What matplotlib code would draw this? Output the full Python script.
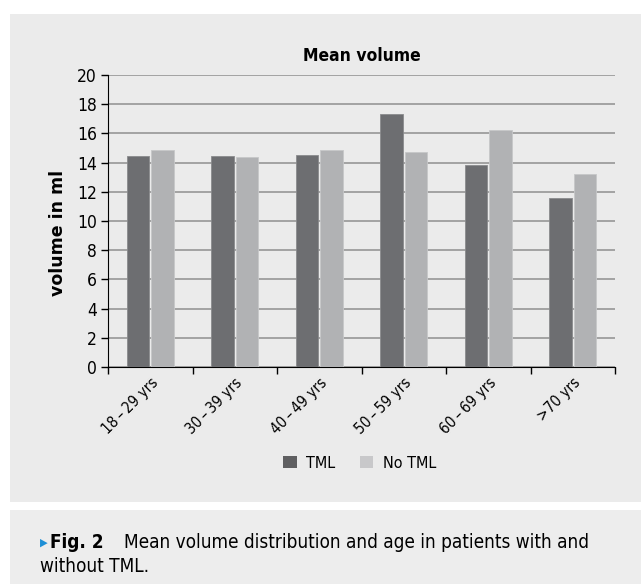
import numpy as np
import matplotlib
matplotlib.use('Agg')
import matplotlib.pyplot as plt
from matplotlib.patches import Rectangle

ageGroups = ['18\u2009–\u200929 yrs', '30\u2009–\u200939 yrs', '40\u2009–\u200949 yrs',
             '50\u2009–\u200959 yrs', '60\u2009–\u200969 yrs', '>70 yrs']
tmlVolume = [14.45, 14.45, 14.55, 17.35, 13.85, 11.55]
noTmlVolume = [14.85, 14.35, 14.85, 14.75, 16.25, 13.25]
yTicks = [0, 2, 4, 6, 8, 10, 12, 14, 16, 18, 20]

plt.rcParams['font.family'] = ['DejaVu Sans']
plt.rcParams['font.stretch'] = 'condensed'

fig = plt.figure(figsize=(6.41, 5.84), dpi=100)
fig.patch.set_facecolor('white')

# grey panels behind chart and caption
fig.patches.append(Rectangle((10/641, 1 - 502/584), 631/641, 488/584,
                             transform=fig.transFigure, facecolor='#ebebeb', edgecolor='none', zorder=-10))
fig.patches.append(Rectangle((10/641, 0), 631/641, 74/584,
                             transform=fig.transFigure, facecolor='#ededed', edgecolor='none', zorder=-10))

ax = fig.add_axes([108/641, 1 - 367/584, 507/641, 292/584])
ax.set_facecolor('none')

x = np.arange(len(ageGroups))
w = 0.265
ax.bar(x - 0.145, tmlVolume, w, color='#6d6e71', edgecolor='#8a8b8d', linewidth=0.6, label='TML', zorder=3)
ax.bar(x + 0.145, noTmlVolume, w, color='#b1b2b4', edgecolor='#c6c7c9', linewidth=0.6, label='No TML', zorder=3)

ax.set_ylim(0, 20)
ax.set_xlim(-0.5, len(ageGroups) - 0.5)
ax.set_yticks(yTicks)
ax.yaxis.grid(True, color='#a3a3a3', linewidth=1.4, zorder=0)
ax.set_axisbelow(True)

ax.set_xticks(np.arange(-0.5, len(ageGroups)), labels=[])
ax.set_xticks(x, minor=True)
ax.set_xticklabels(ageGroups, minor=True, rotation=45, ha='right', rotation_mode='anchor', fontsize=11)
ax.tick_params(axis='x', which='minor', length=0, pad=6)
ax.tick_params(axis='x', which='major', length=5, width=1, direction='out')
ax.tick_params(axis='y', length=5, width=1, labelsize=12.5, pad=3)

for s in ['top', 'right']:
    ax.spines[s].set_visible(False)

ax.set_ylabel('volume in ml', fontsize=12.5, fontweight='bold', fontstretch='normal')
ax.yaxis.set_label_coords(-0.08, 0.459)
ax.set_title('Mean volume', fontsize=12.5, fontweight='semibold', pad=10)

leg = fig.legend(loc='center', bbox_to_anchor=(0.561, 1 - 463/584), ncol=2, frameon=False,
                 fontsize=11.5, handlelength=0.85, handleheight=0.85, columnspacing=1.5, handletextpad=0.6)
for h, c in zip(leg.legend_handles, ['#5f5f61', '#c8c8ca']):
    h.set_facecolor(c)
    h.set_edgecolor('none')

yCap = 1 - 543/584
fig.text(40/641, yCap, '\u25b6', color='#1e8fd6', fontsize=8, va='center')
figLabel = fig.text(50/641, yCap, 'Fig. 2', fontsize=13.6, fontweight='bold', va='center')
fig.canvas.draw()
bb = figLabel.get_window_extent()
fig.text((bb.x1 + 20) / 641, yCap, 'Mean volume distribution and age in patients with and',
         fontsize=13.6, va='center')
fig.text(40/641, 1 - 567/584, 'without TML.', fontsize=13.6, va='center')

fig.savefig('out.png', dpi=100)
